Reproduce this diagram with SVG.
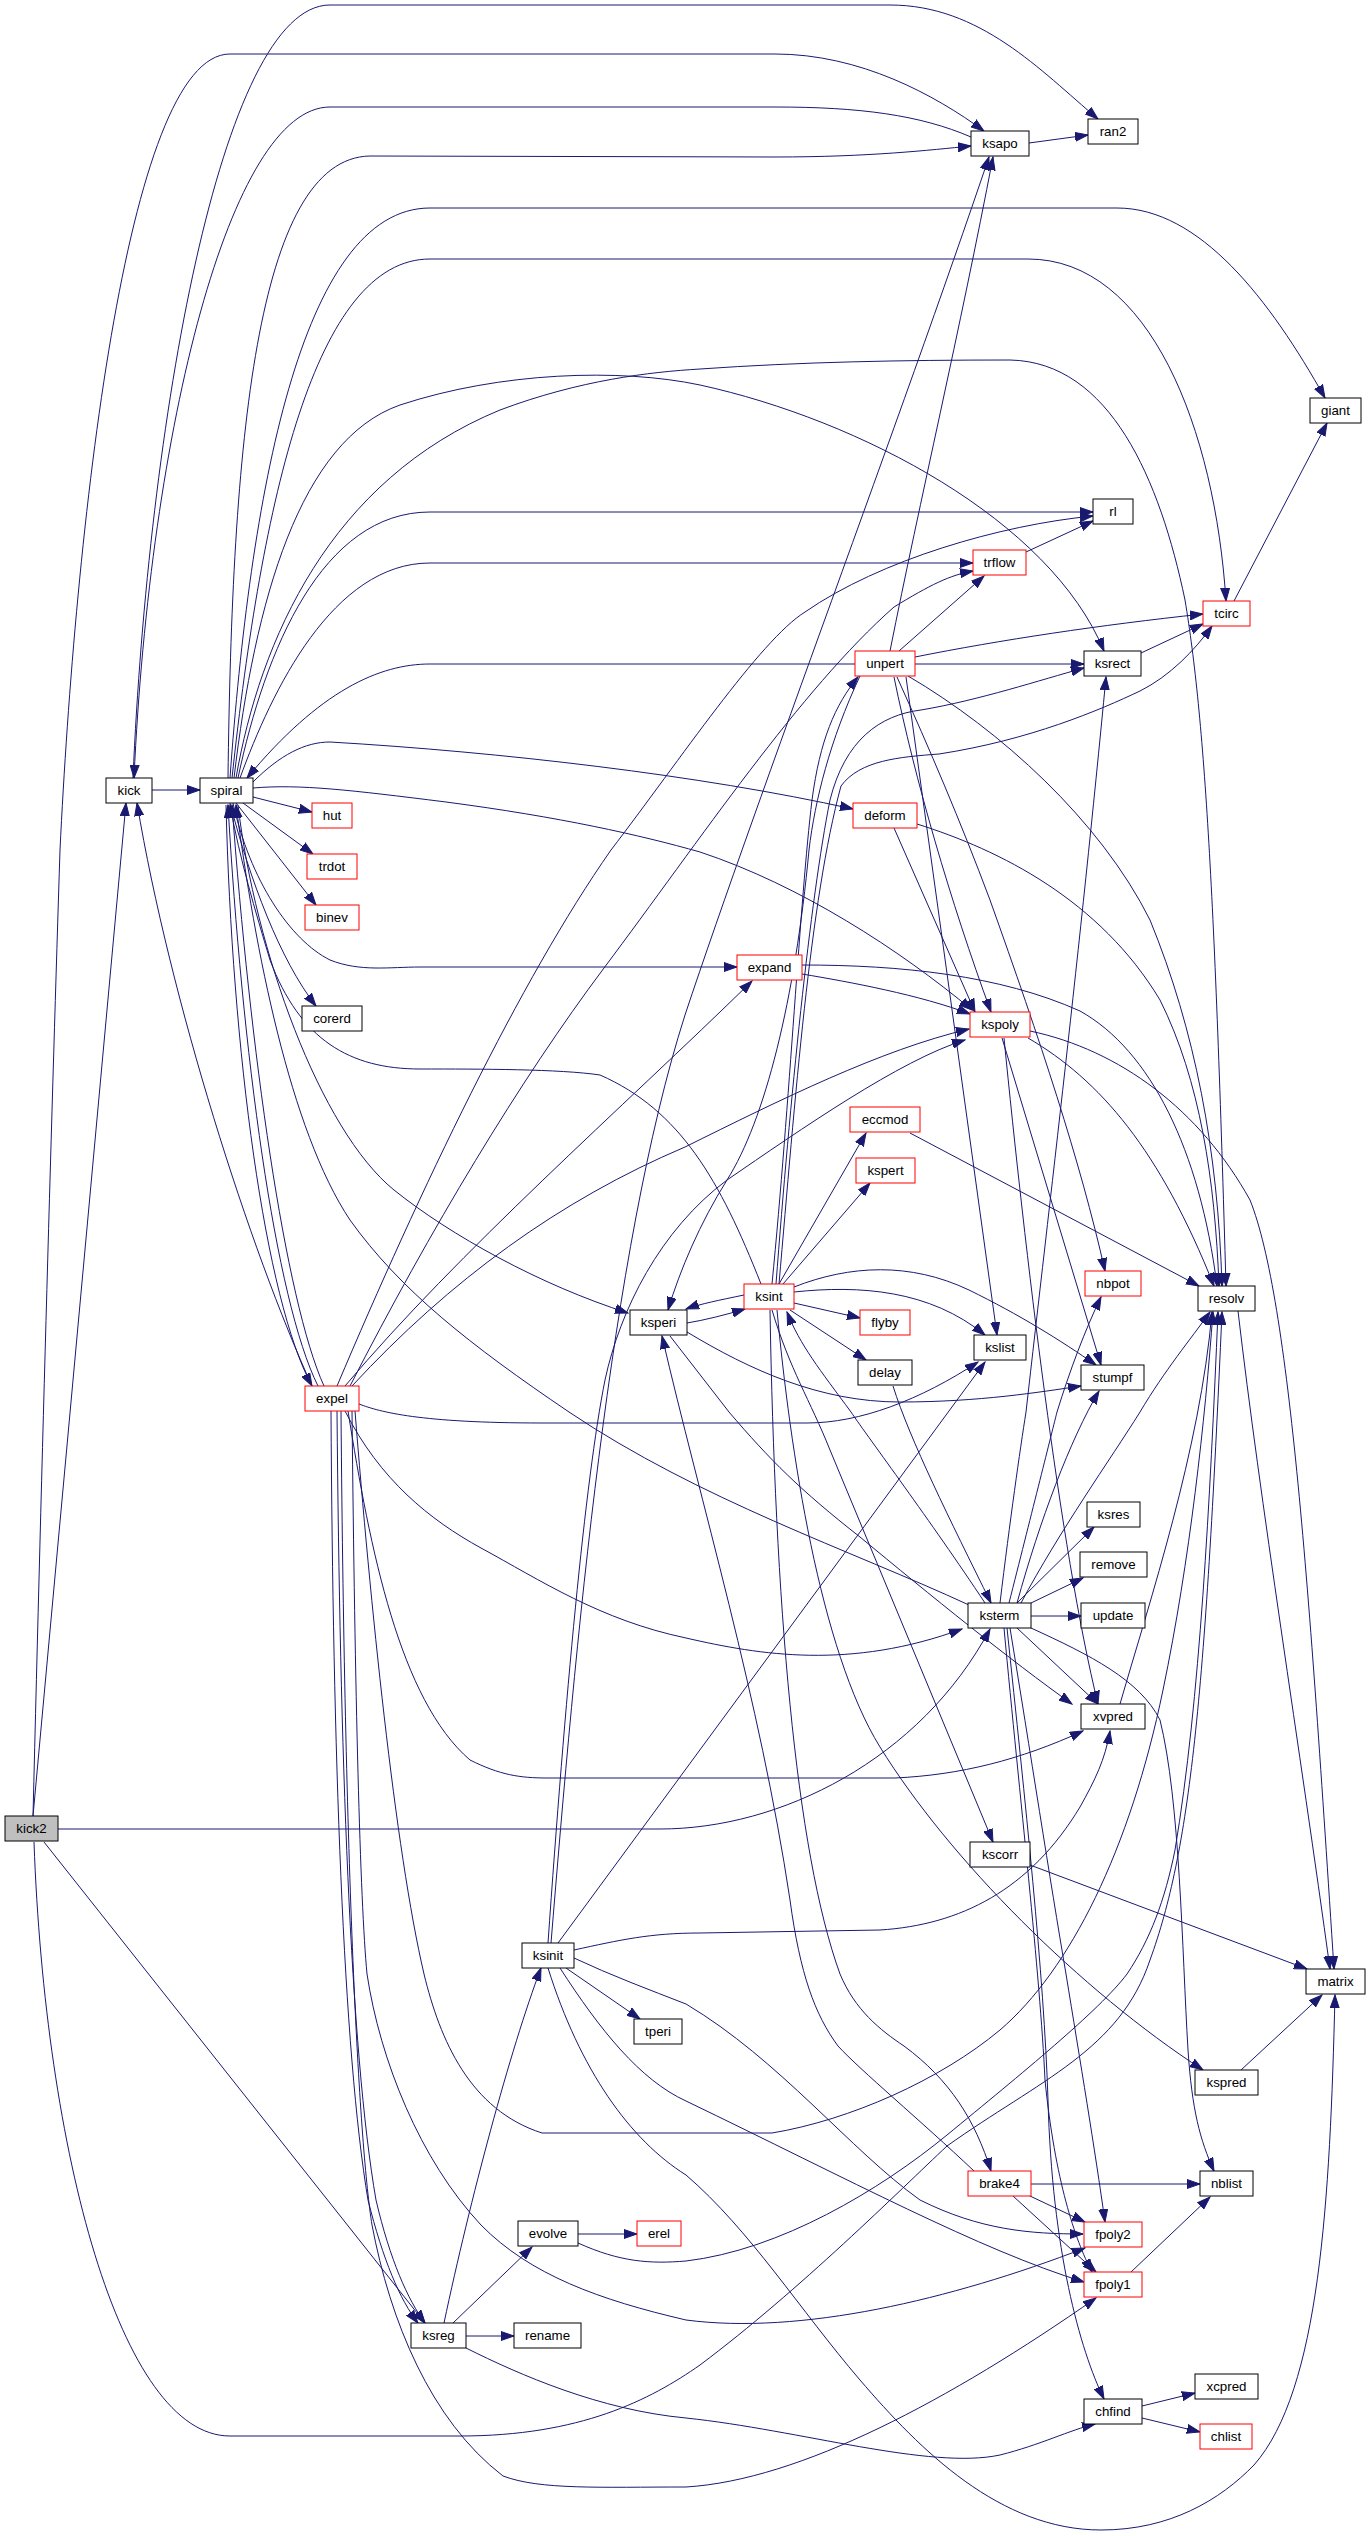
<svg xmlns="http://www.w3.org/2000/svg" width="1371" height="2536" viewBox="0 0 1371 2536">
<style>
.n rect{fill:#fff;stroke:#000;stroke-width:1}
.r rect{fill:#fff;stroke:#f00;stroke-width:1}
.g rect{fill:#bfbfbf;stroke:#000;stroke-width:1}
text{font-family:"Liberation Sans",Arial,Helvetica,sans-serif;font-size:13.3px;text-anchor:middle;fill:#000}
.e path{fill:none;stroke:#191970;stroke-width:1;marker-end:url(#a)}
</style>
<defs>
<marker id="a" markerWidth="14" markerHeight="10" refX="13" refY="5" orient="auto" markerUnits="userSpaceOnUse"><path d="M0,0.5 L13,5 L0,9.5 z" fill="#191970" stroke="#191970" stroke-width="1"/></marker>
</defs>
<rect width="1371" height="2536" fill="#fff"/>
<g id="edges" class="e">
<path d="M33,1816 L126,803"/>
<path d="M33,1816 C42,1450 52,1100 60,850 C75,540 125,54 230,54 L775,54 C860,54 935,95 984,131"/>
<path d="M58,1829 L660,1829 C780,1829 920,1760 990,1629"/>
<path d="M44,1842 L425,2323"/>
<path d="M34,1842 C45,2150 120,2436 230,2436 L460,2436 C580,2436 650,2400 700,2365 C800,2290 900,2190 947,2146 C1040,2080 1120,2050 1150,1960 C1190,1850 1205,1700 1222,1312"/>
<path d="M152,790 L200,790"/>
<path d="M133,778 C148,430 220,5 330,5 L890,5 C980,5 1040,70 1098,119"/>
<path d="M971,137 C920,115 860,107 775,107 L330,107 C230,107 150,430 134,778"/>
<path d="M312,1386 C250,1250 170,1000 137,803"/>
<path d="M228,778 C232,450 255,158 370,156 L775,157 C870,157 930,150 971,146"/>
<path d="M230,778 C250,500 300,208 430,208 L1117,208 C1200,208 1270,300 1325,398"/>
<path d="M232,778 C262,500 315,259 430,259 L1028,259 C1150,259 1215,430 1226,601"/>
<path d="M234,778 C255,600 300,440 400,405 C500,372 620,368 700,385 C860,420 1050,520 1104,651"/>
<path d="M236,778 C260,640 330,480 500,410 C580,380 650,372 700,369 C800,362 900,360 1010,360 C1110,362 1160,480 1185,600 C1205,720 1215,900 1226,1286"/>
<path d="M238,778 C265,650 322,512 430,512 L1093,512"/>
<path d="M240,778 C272,690 333,563 430,563 L973,563"/>
<path d="M855,664 L430,664 C380,664 320,690 247,778"/>
<path d="M253,782 C280,755 305,742 330,742 C500,752 700,775 853,809"/>
<path d="M253,788 C300,784 350,790 446,802 C560,817 640,835 700,852 C800,885 900,950 972,1010"/>
<path d="M253,797 L312,812"/>
<path d="M243,803 L313,854"/>
<path d="M236,803 L316,905"/>
<path d="M230,803 C250,880 280,960 316,1006"/>
<path d="M233,803 C250,880 290,940 330,960 C360,972 390,967 420,967 L737,967"/>
<path d="M761,1284 C720,1180 680,1110 600,1075 C560,1069 480,1069 420,1069 C350,1069 300,1040 270,960 C255,910 240,860 230,805"/>
<path d="M969,1605 C850,1550 700,1500 569,1412 C470,1345 400,1290 350,1220 C290,1130 255,950 236,805"/>
<path d="M238,805 C255,950 320,1130 394,1190 C450,1235 540,1285 628,1313"/>
<path d="M226,805 C232,1050 265,1300 312,1386"/>
<path d="M318,1386 C275,1300 242,1050 228,805"/>
<path d="M324,1386 C285,1300 250,1050 232,805"/>
<path d="M337,1386 C420,1190 520,980 611,850 C680,760 760,640 805,612 C880,560 1000,525 1093,516"/>
<path d="M350,1386 C430,1230 520,1080 604,968 C700,840 800,690 894,607 C930,585 950,575 973,571"/>
<path d="M345,1386 C460,1250 620,1110 752,981"/>
<path d="M352,1386 C450,1280 560,1200 685,1147 C780,1100 880,1050 969,1029"/>
<path d="M548,1943 C565,1700 585,1480 605,1380 C620,1310 660,1230 727,1180 C800,1130 900,1060 965,1040"/>
<path d="M860,676 C830,740 815,800 809,850 C795,1000 765,1120 727,1180 C700,1223 680,1270 668,1310"/>
<path d="M551,1943 C575,1650 610,1250 685,1015 C760,790 900,420 989,157"/>
<path d="M890,651 C920,500 960,330 993,157"/>
<path d="M1029,143 L1088,135"/>
<path d="M899,651 L984,576"/>
<path d="M915,657 C1000,640 1100,625 1203,614"/>
<path d="M915,664 L1084,664"/>
<path d="M1141,653 L1203,624"/>
<path d="M1234,601 L1327,423"/>
<path d="M1026,552 L1093,521"/>
<path d="M906,677 L997,1335"/>
<path d="M894,677 C915,780 950,900 991,1012"/>
<path d="M897,677 C930,750 960,820 990,900 C1040,1040 1080,1160 1105,1271"/>
<path d="M908,676 C1000,730 1100,820 1150,920 C1195,1030 1218,1150 1222,1286"/>
<path d="M894,828 L975,1012"/>
<path d="M917,824 C1000,850 1100,900 1160,1000 C1200,1080 1215,1180 1219,1286"/>
<path d="M802,974 C850,982 920,995 970,1014"/>
<path d="M802,965 C900,965 1000,975 1080,1011 C1150,1050 1200,1150 1217,1286"/>
<path d="M1028,1038 C1100,1080 1160,1150 1214,1286"/>
<path d="M1030,1031 C1120,1050 1200,1110 1250,1200 C1290,1300 1310,1600 1334,1969"/>
<path d="M1002,1038 L1101,1365"/>
<path d="M1004,1038 C1025,1250 1060,1550 1098,1704"/>
<path d="M910,1133 L1199,1286"/>
<path d="M779,1284 L866,1133"/>
<path d="M783,1284 L870,1183"/>
<path d="M794,1303 L860,1318"/>
<path d="M790,1310 L866,1360"/>
<path d="M794,1292 C860,1285 930,1290 985,1335"/>
<path d="M794,1287 C850,1265 910,1262 969,1290 C1020,1315 1060,1340 1096,1365"/>
<path d="M744,1295 C720,1300 700,1304 686,1309"/>
<path d="M687,1323 C705,1320 725,1315 745,1309"/>
<path d="M772,1284 C790,1100 800,900 812,800 C820,740 835,705 858,677"/>
<path d="M776,1284 C790,1100 810,900 830,800 C845,740 880,715 921,710 C980,700 1040,680 1084,668"/>
<path d="M779,1284 C795,1100 810,900 841,786 C860,760 900,757 939,754 C1030,740 1100,710 1140,691 C1170,676 1195,650 1212,626"/>
<path d="M772,1310 C790,1370 810,1400 830,1450 L993,1842"/>
<path d="M770,1310 C775,1600 795,1850 840,1974 C855,2010 880,2030 904,2046 C950,2080 975,2120 991,2171"/>
<path d="M777,1310 C790,1450 820,1650 880,1747 C950,1860 1080,1990 1203,2070"/>
<path d="M985,1603 C930,1520 870,1440 851,1412 C820,1370 800,1345 787,1312"/>
<path d="M893,1386 C910,1440 950,1520 991,1603"/>
<path d="M687,1332 C750,1370 820,1402 900,1402 C980,1402 1040,1392 1081,1386"/>
<path d="M670,1336 L729,1412 C770,1460 800,1490 860,1537 C930,1595 1010,1660 1072,1704"/>
<path d="M359,1404 C380,1412 420,1423 542,1423 L807,1423 C860,1423 920,1400 978,1362"/>
<path d="M558,1943 L985,1362"/>
<path d="M345,1411 C380,1480 430,1520 481,1548 C540,1580 600,1620 686,1638 C760,1655 850,1670 962,1629"/>
<path d="M348,1411 C370,1550 400,1700 470,1760 C500,1775 520,1778 547,1778 L895,1778 C960,1775 1020,1760 1083,1731"/>
<path d="M355,1411 C370,1600 395,1850 424,1974 C440,2040 470,2110 542,2133 L772,2133 C850,2120 940,2080 1000,2030 C1070,1970 1130,1850 1163,1690 C1190,1560 1205,1420 1213,1312"/>
<path d="M352,1411 C355,1700 360,1900 367,1974 C380,2060 420,2160 481,2225 C530,2275 600,2300 686,2320 C800,2335 950,2300 1085,2248"/>
<path d="M341,1411 C345,1900 360,2150 372,2225 C390,2320 430,2420 503,2476 C540,2490 600,2487 686,2487 C800,2480 950,2400 1096,2298"/>
<path d="M331,1411 C333,1750 343,2050 368,2200 C383,2260 400,2300 418,2323"/>
<path d="M337,1411 C340,1750 350,2050 376,2200 C390,2260 408,2300 425,2323"/>
<path d="M444,2323 C470,2200 510,2050 541,1968"/>
<path d="M453,2323 L532,2247"/>
<path d="M466,2336 L514,2336"/>
<path d="M466,2348 C520,2375 600,2410 686,2418 C800,2430 930,2470 1000,2455 C1040,2445 1070,2430 1095,2424"/>
<path d="M578,2234 L637,2234"/>
<path d="M578,2243 C620,2262 650,2264 686,2261 C780,2250 880,2190 947,2135 C1020,2075 1100,2010 1127,1974 C1150,1940 1165,1900 1175,1850 C1200,1700 1210,1500 1218,1312"/>
<path d="M566,1968 L640,2019"/>
<path d="M574,1950 C620,1940 650,1933 700,1933 L880,1930 C960,1925 1030,1890 1080,1807 C1095,1780 1105,1760 1110,1731"/>
<path d="M574,1958 C610,1975 650,1990 686,2004 C780,2060 850,2150 920,2200 C980,2230 1030,2234 1083,2234"/>
<path d="M560,1968 C600,2030 640,2080 686,2101 C850,2180 980,2250 1084,2282"/>
<path d="M548,1968 C580,2070 630,2140 686,2175 C750,2230 800,2310 860,2380 C920,2450 1000,2530 1101,2530 C1170,2530 1220,2500 1254,2465 C1320,2390 1330,2200 1335,1995"/>
<path d="M1238,1311 C1260,1500 1300,1750 1330,1969"/>
<path d="M1030,1865 L1307,1969"/>
<path d="M1241,2070 L1322,1995"/>
<path d="M1031,2184 L1200,2184"/>
<path d="M1030,2196 L1085,2222"/>
<path d="M1013,2196 L1096,2272"/>
<path d="M974,2171 C920,2120 860,2070 838,2046 C815,2015 800,1974 790,1900 C760,1700 700,1500 662,1336"/>
<path d="M1131,2272 L1210,2197"/>
<path d="M1142,2406 L1195,2393"/>
<path d="M1142,2418 L1200,2432"/>
<path d="M1017,1603 L1094,1527"/>
<path d="M1031,1603 L1083,1578"/>
<path d="M1031,1616 L1081,1616"/>
<path d="M1017,1628 L1098,1704"/>
<path d="M1031,1628 C1090,1655 1140,1680 1160,1720 C1180,1800 1182,1950 1188,2050 C1192,2110 1200,2140 1214,2171"/>
<path d="M1017,1603 C1040,1520 1070,1440 1099,1391"/>
<path d="M1009,1603 C1030,1520 1050,1440 1057,1412 C1070,1370 1085,1330 1101,1297"/>
<path d="M1021,1603 C1060,1530 1110,1460 1140,1412 C1165,1370 1190,1340 1210,1312"/>
<path d="M1000,1603 C1010,1520 1020,1450 1026,1412 C1050,1200 1080,950 1106,677"/>
<path d="M1010,1628 C1030,1750 1050,1880 1066,1974 C1080,2060 1095,2150 1105,2222"/>
<path d="M1004,1628 C1020,1800 1040,1974 1045,2080 C1055,2180 1075,2240 1092,2272"/>
<path d="M1007,1628 C1025,1800 1044,1974 1048,2100 C1052,2250 1080,2350 1104,2399"/>
<path d="M1120,1704 C1150,1600 1200,1450 1212,1312"/>
</g>
<g id="node-kick" class="n"><rect x="106" y="778" width="46" height="25"/><text x="129" y="795">kick</text></g>
<g id="node-spiral" class="n"><rect x="200" y="778" width="53" height="25"/><text x="226.5" y="795">spiral</text></g>
<g id="node-hut" class="r"><rect x="312" y="803" width="40" height="25"/><text x="332" y="820">hut</text></g>
<g id="node-trdot" class="r"><rect x="307" y="854" width="50" height="25"/><text x="332" y="871">trdot</text></g>
<g id="node-binev" class="r"><rect x="305" y="905" width="54" height="25"/><text x="332" y="922">binev</text></g>
<g id="node-corerd" class="n"><rect x="302" y="1006" width="60" height="25"/><text x="332" y="1023">corerd</text></g>
<g id="node-expel" class="r"><rect x="305" y="1386" width="54" height="25"/><text x="332" y="1403">expel</text></g>
<g id="node-ksapo" class="n"><rect x="971" y="131" width="58" height="25"/><text x="1000" y="148">ksapo</text></g>
<g id="node-ran2" class="n"><rect x="1088" y="119" width="50" height="25"/><text x="1113" y="136">ran2</text></g>
<g id="node-giant" class="n"><rect x="1310" y="398" width="51" height="25"/><text x="1335.5" y="415">giant</text></g>
<g id="node-rl" class="n"><rect x="1093" y="499" width="40" height="25"/><text x="1113" y="516">rl</text></g>
<g id="node-trflow" class="r"><rect x="973" y="550" width="53" height="25"/><text x="999.5" y="567">trflow</text></g>
<g id="node-tcirc" class="r"><rect x="1203" y="601" width="47" height="25"/><text x="1226.5" y="618">tcirc</text></g>
<g id="node-unpert" class="r"><rect x="855" y="651" width="60" height="25"/><text x="885" y="668">unpert</text></g>
<g id="node-ksrect" class="n"><rect x="1084" y="651" width="57" height="25"/><text x="1112.5" y="668">ksrect</text></g>
<g id="node-deform" class="r"><rect x="853" y="803" width="64" height="25"/><text x="885" y="820">deform</text></g>
<g id="node-expand" class="r"><rect x="737" y="955" width="65" height="25"/><text x="769.5" y="972">expand</text></g>
<g id="node-kspoly" class="r"><rect x="970" y="1012" width="60" height="25"/><text x="1000" y="1029">kspoly</text></g>
<g id="node-eccmod" class="r"><rect x="850" y="1107" width="70" height="25"/><text x="885" y="1124">eccmod</text></g>
<g id="node-kspert" class="r"><rect x="856" y="1158" width="59" height="25"/><text x="885.5" y="1175">kspert</text></g>
<g id="node-ksint" class="r"><rect x="744" y="1284" width="50" height="25"/><text x="769" y="1301">ksint</text></g>
<g id="node-nbpot" class="r"><rect x="1085" y="1271" width="56" height="25"/><text x="1113" y="1288">nbpot</text></g>
<g id="node-resolv" class="n"><rect x="1198" y="1286" width="57" height="25"/><text x="1226.5" y="1303">resolv</text></g>
<g id="node-ksperi" class="n"><rect x="630" y="1310" width="57" height="25"/><text x="658.5" y="1327">ksperi</text></g>
<g id="node-flyby" class="r"><rect x="860" y="1310" width="50" height="25"/><text x="885" y="1327">flyby</text></g>
<g id="node-kslist" class="n"><rect x="974" y="1335" width="52" height="25"/><text x="1000" y="1352">kslist</text></g>
<g id="node-delay" class="n"><rect x="858" y="1360" width="54" height="25"/><text x="885" y="1377">delay</text></g>
<g id="node-stumpf" class="n"><rect x="1081" y="1365" width="63" height="25"/><text x="1112.5" y="1382">stumpf</text></g>
<g id="node-ksres" class="n"><rect x="1087" y="1502" width="53" height="25"/><text x="1113.5" y="1519">ksres</text></g>
<g id="node-remove" class="n"><rect x="1080" y="1552" width="67" height="25"/><text x="1113.5" y="1569">remove</text></g>
<g id="node-ksterm" class="n"><rect x="968" y="1603" width="63" height="25"/><text x="999.5" y="1620">ksterm</text></g>
<g id="node-update" class="n"><rect x="1081" y="1603" width="64" height="25"/><text x="1113" y="1620">update</text></g>
<g id="node-xvpred" class="n"><rect x="1081" y="1704" width="64" height="25"/><text x="1113" y="1721">xvpred</text></g>
<g id="node-kick2" class="g"><rect x="5" y="1816" width="53" height="25"/><text x="31.5" y="1833">kick2</text></g>
<g id="node-kscorr" class="n"><rect x="970" y="1842" width="60" height="25"/><text x="1000" y="1859">kscorr</text></g>
<g id="node-ksinit" class="n"><rect x="522" y="1943" width="52" height="25"/><text x="548" y="1960">ksinit</text></g>
<g id="node-matrix" class="n"><rect x="1306" y="1969" width="59" height="25"/><text x="1335.5" y="1986">matrix</text></g>
<g id="node-tperi" class="n"><rect x="634" y="2019" width="48" height="25"/><text x="658" y="2036">tperi</text></g>
<g id="node-kspred" class="n"><rect x="1195" y="2070" width="63" height="25"/><text x="1226.5" y="2087">kspred</text></g>
<g id="node-brake4" class="r"><rect x="968" y="2171" width="63" height="25"/><text x="999.5" y="2188">brake4</text></g>
<g id="node-nblist" class="n"><rect x="1200" y="2171" width="53" height="25"/><text x="1226.5" y="2188">nblist</text></g>
<g id="node-evolve" class="n"><rect x="518" y="2221" width="60" height="25"/><text x="548" y="2238">evolve</text></g>
<g id="node-erel" class="r"><rect x="637" y="2221" width="44" height="25"/><text x="659" y="2238">erel</text></g>
<g id="node-fpoly2" class="r"><rect x="1084" y="2222" width="58" height="25"/><text x="1113" y="2239">fpoly2</text></g>
<g id="node-fpoly1" class="r"><rect x="1084" y="2272" width="58" height="25"/><text x="1113" y="2289">fpoly1</text></g>
<g id="node-ksreg" class="n"><rect x="411" y="2323" width="55" height="25"/><text x="438.5" y="2340">ksreg</text></g>
<g id="node-rename" class="n"><rect x="514" y="2323" width="67" height="25"/><text x="547.5" y="2340">rename</text></g>
<g id="node-xcpred" class="n"><rect x="1195" y="2374" width="63" height="25"/><text x="1226.5" y="2391">xcpred</text></g>
<g id="node-chfind" class="n"><rect x="1084" y="2399" width="58" height="25"/><text x="1113" y="2416">chfind</text></g>
<g id="node-chlist" class="r"><rect x="1200" y="2424" width="52" height="25"/><text x="1226" y="2441">chlist</text></g>
</svg>
